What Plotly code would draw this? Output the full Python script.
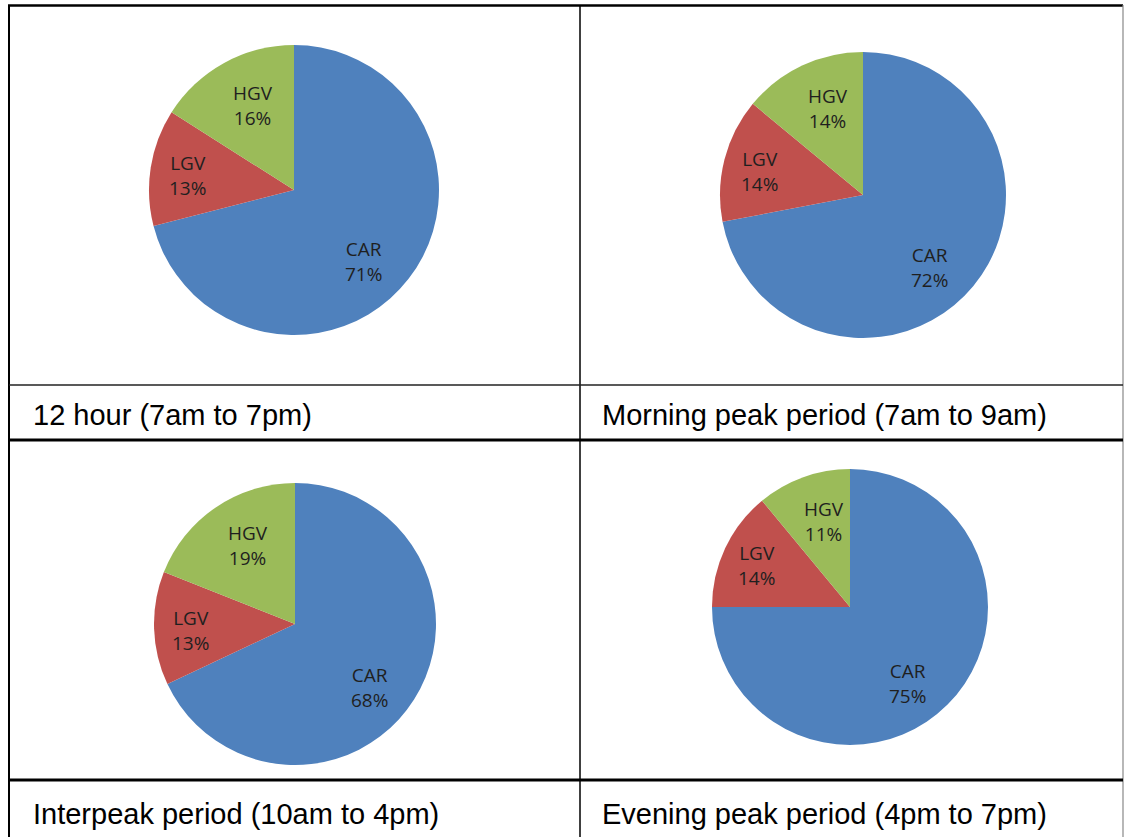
import math
import plotly.graph_objects as go

W, H = 1125, 837

categories = ["CAR", "LGV", "HGV"]
vals_12h = [71, 13, 16]
vals_am = [72, 14, 14]
vals_ip = [68, 13, 19]
vals_pm = [75, 14, 11]
captions = [
    "12 hour (7am to 7pm)",
    "Morning peak period (7am to 9am)",
    "Interpeak period (10am to 4pm)",
    "Evening peak period (4pm to 7pm)",
]
colors = ["#4F81BD", "#C0504D", "#9BBB59"]

# pie placement in pixels: (cx, cy, r)
pies = [
    (vals_12h, 294, 190, 145),
    (vals_am, 863, 195, 143),
    (vals_ip, 295, 624, 141),
    (vals_pm, 850, 607, 138),
]
# label placement style (Excel-like): angular nudge in degrees and radial fraction
label_style = {"CAR": (8.0, 0.69), "LGV": (-1.5, 0.74), "HGV": (3.0, 0.65)}

def px_x(x):
    return x / W

def px_y(y):
    return 1 - y / H

fig = go.Figure()
annotations = []
for vals, cx, cy, r in pies:
    fig.add_trace(go.Pie(
        labels=categories,
        values=vals,
        sort=False,
        direction="clockwise",
        rotation=0,
        marker=dict(colors=colors, line=dict(width=0)),
        textinfo="none",
        hoverinfo="skip",
        showlegend=False,
        domain=dict(x=[px_x(cx - r), px_x(cx + r)], y=[px_y(cy + r), px_y(cy - r)]),
    ))
    total = float(sum(vals))
    cum = 0.0
    for lab, v in zip(categories, vals):
        nudge, frac = label_style[lab]
        mid = (cum + v / 2) / total * 2 * math.pi + math.radians(nudge)
        cum += v
        d = frac * r
        lx = cx + d * math.sin(mid)
        ly = cy - d * math.cos(mid)
        annotations.append(dict(
            text=f"{lab}<br>{round(v / total * 100)}%",
            xref="paper", yref="paper", x=px_x(lx), y=px_y(ly),
            xanchor="center", yanchor="middle", showarrow=False,
            font=dict(family="Open Sans", size=19, color="#1f1f1f")))

shapes = []
def line(x0, y0, x1, y1, w, c="black"):
    shapes.append(dict(type="line", xref="paper", yref="paper",
                       x0=px_x(x0), y0=px_y(y0), x1=px_x(x1), y1=px_y(y1),
                       line=dict(color=c, width=w)))

line(8, 5.5, 1123, 5.5, 2.5)
line(9, 5, 9, 837, 2)
line(1123, 5, 1123, 837, 1.2, "#888888")
line(580, 5, 580, 837, 1.5)
line(9, 385, 1123, 385, 1.5, "#222222")
line(9, 440, 1123, 440, 3)
line(9, 780, 1123, 780, 3)

cap_pos = [(31, 415), (600, 415), (31, 814), (600, 814)]
for txt, (x, y) in zip(captions, cap_pos):
    annotations.append(dict(text=txt, xref="paper", yref="paper",
                            x=px_x(x), y=px_y(y), xanchor="left", yanchor="middle",
                            showarrow=False,
                            font=dict(family="Liberation Sans, Arial", size=29, color="black")))

fig.update_layout(
    width=W, height=H,
    margin=dict(l=0, r=0, t=0, b=0),
    paper_bgcolor="white", plot_bgcolor="white",
    shapes=shapes, annotations=annotations,
)

fig.write_html("out.html")
